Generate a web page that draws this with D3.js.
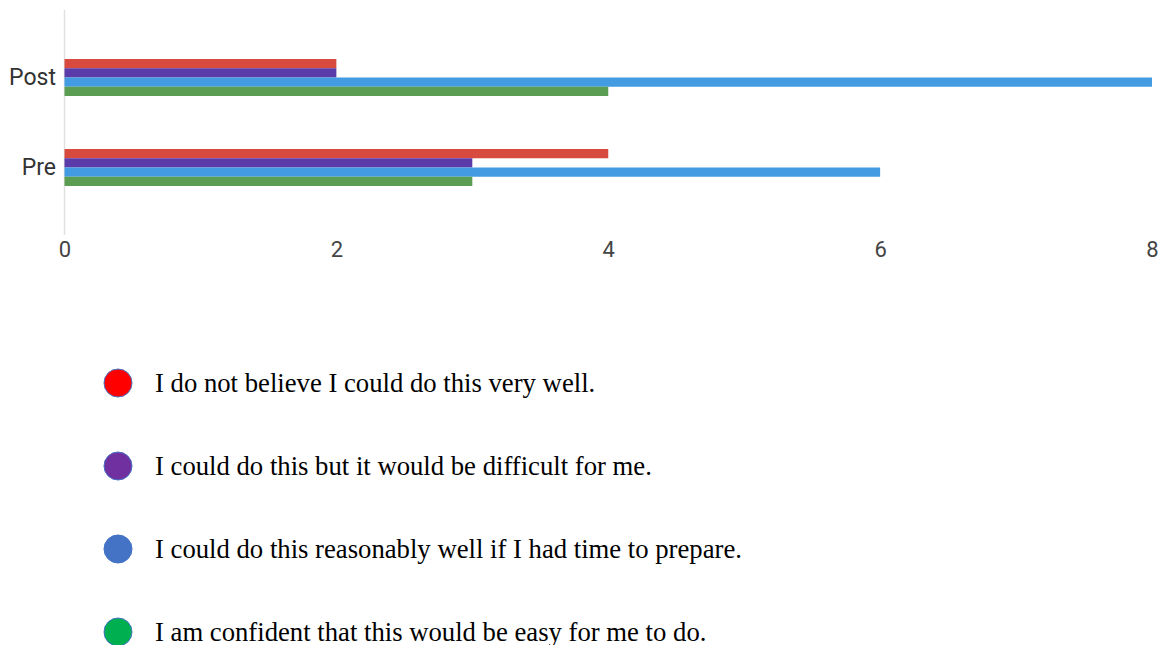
<!DOCTYPE html>
<html>
<head>
<meta charset="utf-8">
<script src="https://cdn.jsdelivr.net/npm/d3@7/dist/d3.min.js"></script>
<style>
  html, body { margin: 0; padding: 0; background: #fff; }
  svg { display: block; }
</style>
</head>
<body>
<svg id="chart" width="1163" height="645"></svg>
<script>
// Survey responses, before and after
const categories = ["Post", "Pre"];
const seriesNames = [
  "I do not believe I could do this very well.",
  "I could do this but it would be difficult for me.",
  "I could do this reasonably well if I had time to prepare.",
  "I am confident that this would be easy for me to do."
];
const postValues = [2, 2, 8, 4];
const preValues = [4, 3, 6, 3];
const xTicks = [0, 2, 4, 6, 8];

const barColors = ["#d8493e", "#5a3ba9", "#439ce1", "#5b9d52"];
const dotColors = ["#ff0000", "#7030a0", "#4472c4", "#00b050"];

const valuesByCategory = { Post: postValues, Pre: preValues };

const svg = d3.select("#chart");

const x = d3.scaleLinear().domain([0, 8]).range([64.5, 1152]);
const y = d3.scaleBand().domain(categories).range([10, 235]).paddingInner(0.5).paddingOuter(0.5);
const ySub = d3.scaleBand().domain(d3.range(seriesNames.length)).range([4, y.bandwidth() - 4]);

// Vertical baseline at zero
svg.append("line")
  .attr("x1", x(0)).attr("x2", x(0))
  .attr("y1", 10).attr("y2", 235)
  .attr("stroke", "#e0e0e0").attr("stroke-width", 1.5);

// Bars
const groups = svg.append("g").selectAll("g")
  .data(categories)
  .join("g")
  .attr("transform", d => `translate(0,${y(d)})`);

groups.selectAll("rect")
  .data(c => valuesByCategory[c].map((v, i) => ({ v, i })))
  .join("rect")
  .attr("x", x(0))
  .attr("y", d => ySub(d.i))
  .attr("width", d => x(d.v) - x(0))
  .attr("height", ySub.bandwidth())
  .attr("fill", d => barColors[d.i]);

// X axis labels
const xAxis = d3.axisBottom(x).tickValues(xTicks).tickSize(0).tickPadding(0).tickFormat(d3.format("d"));
const gx = svg.append("g").attr("transform", "translate(0,241)").call(xAxis);
gx.select(".domain").remove();
gx.selectAll("text")
  .attr("dy", "0.71em")
  .attr("font-family", "Roboto, Arial, sans-serif")
  .attr("font-size", 22)
  .attr("fill", "#444");

// Y axis labels
const yAxis = d3.axisLeft(y).tickSize(0).tickPadding(0);
const gy = svg.append("g").attr("transform", "translate(56,0)").call(yAxis);
gy.select(".domain").remove();
gy.selectAll("text")
  .attr("font-family", "Roboto, Arial, sans-serif")
  .attr("font-size", 23)
  .attr("fill", "#333");

// Legend
const legendY = d3.scalePoint().domain(d3.range(seriesNames.length)).range([383, 632]);
const legend = svg.append("g").selectAll("g")
  .data(seriesNames)
  .join("g")
  .attr("transform", (d, i) => `translate(0,${legendY(i)})`);

legend.append("circle")
  .attr("cx", 118)
  .attr("cy", 0)
  .attr("r", 14)
  .attr("fill", (d, i) => dotColors[i])
  .attr("stroke", "#4472c4")
  .attr("stroke-width", 1);

legend.append("text")
  .attr("x", 155)
  .attr("y", 0)
  .attr("dy", "0.33em")
  .attr("font-family", "'Liberation Serif', 'Times New Roman', serif")
  .attr("font-size", 26.7)
  .attr("fill", "#000")
  .text(d => d);
</script>
</body>
</html>
